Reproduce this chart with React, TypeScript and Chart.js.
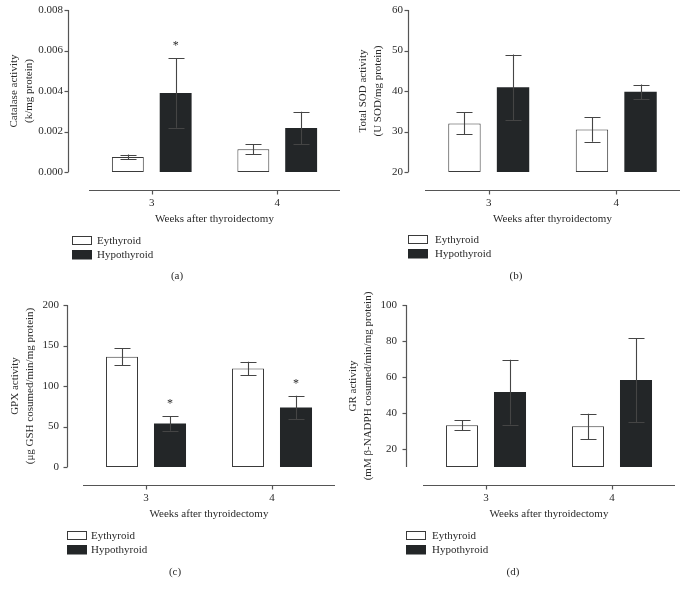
import React, { useEffect, useRef } from 'react';
import { Chart, registerables } from 'chart.js';

Chart.register(...registerables);

// ---------------- data ----------------
const weekLabels = ['3', '4'];
const seriesLabels = ['Eythyroid', 'Hypothyroid'];
const xAxisTitle = 'Weeks after thyroidectomy';

// (a) Catalase
const catalaseTitle = ['Catalase activity', '(k/mg protein)'];
const catalaseEu = [0.00074, 0.00112];
const catalaseEuErr = [0.00012, 0.00025];
const catalaseHypo = [0.0039, 0.00217];
const catalaseHypoErr = [0.00172, 0.0008];
const catalaseHypoStar = [true, false];
const catalaseTicks = [0, 0.002, 0.004, 0.006, 0.008];

// (b) Total SOD
const sodTitle = ['Total SOD activity', '(U SOD/mg protein)'];
const sodEu = [32.0, 30.5];
const sodEuErr = [2.7, 3.0];
const sodHypo = [40.9, 39.8];
const sodHypoErr = [8.1, 1.8];
const sodHypoStar = [false, false];
const sodTicks = [20, 30, 40, 50, 60];

// (c) GPX
const gpxTitle = ['GPX activity', '(\u03bcg GSH cosumed/min/mg protein)'];
const gpxEu = [136.1, 121.7];
const gpxEuErr = [10.3, 8.3];
const gpxHypo = [53.7, 73.5];
const gpxHypoErr = [9.0, 14.6];
const gpxHypoStar = [true, true];
const gpxTicks = [0, 50, 100, 150, 200];

// (d) GR
const grTitle = ['GR activity', '(mM \u03b2-NADPH cosumed/min/mg protein)'];
const grEu = [33.2, 32.6];
const grEuErr = [2.8, 7.0];
const grHypo = [51.6, 58.3];
const grHypoErr = [18.0, 23.3];
const grHypoStar = [false, false];
const grTicks = [20, 40, 60, 80, 100];
const grAxisMin = 10;

const panelLetters = ['(a)', '(b)', '(c)', '(d)'];

// ---------------- styles ----------------
const FONT = "'Liberation Serif', 'Times New Roman', serif";
const TEXT = '#2a2a2a';
const AXIS = '#555555';
const DARK = '#232628';
const BORDER = '#3a3a3a';
const ERR = '#454545';

type PanelDef = {
  title: string[];
  eu: number[];
  euErr: number[];
  hypo: number[];
  hypoErr: number[];
  hypoStar: boolean[];
  ticks: number[];
  min: number;
  max: number;
  decimals: number;
  letter: string;
  // layout
  left: number; top: number; w: number; h: number;
  padT: number; padR: number; padB: number; yWidth: number;
  yGap: number; yTickPad: number; yTitlePad: number;
  legX: number; legTextX: number; legY: number;
  labelX: number; labelY: number;
};

const XH = 54;

const panels: PanelDef[] = [
  {
    title: catalaseTitle, eu: catalaseEu, euErr: catalaseEuErr, hypo: catalaseHypo, hypoErr: catalaseHypoErr,
    hypoStar: catalaseHypoStar, ticks: catalaseTicks, min: catalaseTicks[0], max: catalaseTicks[catalaseTicks.length - 1],
    decimals: 3, letter: panelLetters[0],
    left: 0, top: 0, w: 340, h: 295, padT: 10, padR: 0, padB: 69, yWidth: 89,
    yGap: 21, yTickPad: 26, yTitlePad: 7,
    legX: 72, legTextX: 97, legY: 236, labelX: 177, labelY: 276,
  },
  {
    title: sodTitle, eu: sodEu, euErr: sodEuErr, hypo: sodHypo, hypoErr: sodHypoErr,
    hypoStar: sodHypoStar, ticks: sodTicks, min: sodTicks[0], max: sodTicks[sodTicks.length - 1],
    decimals: 0, letter: panelLetters[1],
    left: 340, top: 0, w: 345, h: 295, padT: 10, padR: 5, padB: 69, yWidth: 85,
    yGap: 17, yTickPad: 22, yTitlePad: 15.5,
    legX: 68, legTextX: 95, legY: 235, labelX: 176, labelY: 276,
  },
  {
    title: gpxTitle, eu: gpxEu, euErr: gpxEuErr, hypo: gpxHypo, hypoErr: gpxHypoErr,
    hypoStar: gpxHypoStar, ticks: gpxTicks, min: gpxTicks[0], max: gpxTicks[gpxTicks.length - 1],
    decimals: 0, letter: panelLetters[2],
    left: 0, top: 295, w: 340, h: 298, padT: 10, padR: 5, padB: 72, yWidth: 83,
    yGap: 16.5, yTickPad: 24, yTitlePad: 8,
    legX: 67, legTextX: 91, legY: 236, labelX: 175, labelY: 277,
  },
  {
    title: grTitle, eu: grEu, euErr: grEuErr, hypo: grHypo, hypoErr: grHypoErr,
    hypoStar: grHypoStar, ticks: grTicks, min: grAxisMin, max: grTicks[grTicks.length - 1],
    decimals: 0, letter: panelLetters[3],
    left: 340, top: 280, w: 345, h: 313, padT: 25, padR: 10, padB: 72, yWidth: 83,
    yGap: 17, yTickPad: 26, yTitlePad: 6,
    legX: 66, legTextX: 92, legY: 251, labelX: 173, labelY: 292,
  },
];

function Panel({ p }: { p: PanelDef }) {
  const ref = useRef<HTMLCanvasElement>(null);
  useEffect(() => {
    const canvas = ref.current;
    if (!canvas) return;
    const values = [p.eu, p.hypo];
    const errs = [p.euErr, p.hypoErr];
    const stars = [p.eu.map(() => false), p.hypoStar];

    const drawPlugin = {
      id: 'panelDecor',
      afterDatasetsDraw(chart: any) {
        const ctx = chart.ctx as CanvasRenderingContext2D;
        const ys = chart.scales.y;
        const xs = chart.scales.x;
        const { left, right, bottom } = chart.chartArea;
        ctx.save();
        // y axis line and ticks
        ctx.strokeStyle = AXIS;
        ctx.lineWidth = 1.2;
        const ax = Math.round(left - p.yGap) + 0.5;
        ctx.beginPath();
        ctx.moveTo(ax, ys.getPixelForValue(p.max));
        ctx.lineTo(ax, ys.getPixelForValue(p.min));
        ctx.stroke();
        p.ticks.forEach((v) => {
          const y = Math.round(ys.getPixelForValue(v)) + 0.5;
          ctx.beginPath();
          ctx.moveTo(ax - 4, y);
          ctx.lineTo(ax, y);
          ctx.stroke();
        });
        // x axis line and ticks
        const ay = Math.round(bottom + 18) + 0.5;
        ctx.beginPath();
        ctx.moveTo(left, ay);
        ctx.lineTo(right, ay);
        ctx.stroke();
        weekLabels.forEach((_, i) => {
          const x = Math.round(xs.getPixelForValue(i)) + 0.5;
          ctx.beginPath();
          ctx.moveTo(x, ay);
          ctx.lineTo(x, ay + 4);
          ctx.stroke();
        });
        // error bars and stars
        ctx.strokeStyle = ERR;
        ctx.lineWidth = 1.1;
        values.forEach((vals, di) => {
          const meta = chart.getDatasetMeta(di);
          meta.data.forEach((bar: any, j: number) => {
            const v = vals[j];
            const e = errs[di][j];
            const x = Math.round(bar.x) + 0.5;
            const yT = ys.getPixelForValue(v + e);
            const yB = ys.getPixelForValue(v - e);
            ctx.beginPath();
            ctx.moveTo(x, yT);
            ctx.lineTo(x, yB);
            ctx.moveTo(x - 8, Math.round(yT) + 0.5);
            ctx.lineTo(x + 8, Math.round(yT) + 0.5);
            ctx.moveTo(x - 8, Math.round(yB) + 0.5);
            ctx.lineTo(x + 8, Math.round(yB) + 0.5);
            ctx.stroke();
            if (stars[di][j]) {
              ctx.fillStyle = TEXT;
              ctx.font = `12px ${FONT}`;
              ctx.textAlign = 'center';
              ctx.textBaseline = 'alphabetic';
              ctx.fillText('*', bar.x, yT - 14.5 + 5.5);
            }
          });
        });
        // legend
        ctx.font = `11px ${FONT}`;
        ctx.textAlign = 'left';
        ctx.textBaseline = 'middle';
        seriesLabels.forEach((lab, i) => {
          const by = p.legY + i * 14;
          if (i === 0) {
            ctx.fillStyle = '#ffffff';
            ctx.fillRect(p.legX, by, 20, 9);
            ctx.strokeStyle = BORDER;
            ctx.lineWidth = 1;
            ctx.strokeRect(p.legX + 0.5, by + 0.5, 19, 8);
          } else {
            ctx.fillStyle = DARK;
            ctx.fillRect(p.legX, by, 20, 9.5);
          }
          ctx.fillStyle = TEXT;
          ctx.fillText(lab, p.legTextX, by + 5);
        });
        // panel letter
        ctx.textAlign = 'center';
        ctx.fillText(p.letter, p.labelX, p.labelY);
        ctx.restore();
      },
    };

    const chart = new Chart(canvas, {
      type: 'bar',
      data: {
        labels: weekLabels,
        datasets: [
          {
            label: seriesLabels[0],
            data: p.eu,
            backgroundColor: '#ffffff',
            borderColor: BORDER,
            borderWidth: 1,
            borderSkipped: false,
            base: p.min,
            categoryPercentage: 0.762,
            barPercentage: 0.667,
          },
          {
            label: seriesLabels[1],
            data: p.hypo,
            backgroundColor: DARK,
            borderColor: DARK,
            borderWidth: 0,
            borderSkipped: false,
            base: p.min,
            categoryPercentage: 0.762,
            barPercentage: 0.667,
          },
        ],
      },
      options: {
        animation: false,
        responsive: false,
        devicePixelRatio: 1,
        events: [],
        layout: { padding: { left: 0, right: p.padR, top: p.padT, bottom: p.padB } },
        plugins: {
          legend: { display: false },
          tooltip: { enabled: false },
          title: { display: false },
        },
        scales: {
          x: {
            type: 'category',
            offset: true,
            grid: { display: false, drawTicks: false },
            border: { display: false },
            ticks: { color: TEXT, font: { family: FONT, size: 11 }, padding: 25 },
            title: {
              display: true,
              text: xAxisTitle,
              color: TEXT,
              font: { family: FONT, size: 11 },
              padding: { top: 0, bottom: 0 },
            },
            afterFit: (s: any) => { s.height = XH; },
          },
          y: {
            type: 'linear',
            min: p.min,
            max: p.max,
            grid: { display: false, drawTicks: true, tickLength: p.yTickPad },
            border: { display: false },
            afterBuildTicks: (s: any) => { s.ticks = p.ticks.map((v) => ({ value: v })); },
            ticks: {
              color: TEXT,
              font: { family: FONT, size: 11 },
              padding: 0,
              callback: (v: any) => Number(v).toFixed(p.decimals),
            },
            title: {
              display: true,
              text: p.title,
              color: TEXT,
              font: { family: FONT, size: 11, lineHeight: '15px' },
              padding: { top: p.yTitlePad, bottom: 0 },
            },
            afterFit: (s: any) => { s.width = p.yWidth; },
          },
        },
      } as any,
      plugins: [drawPlugin],
    });
    return () => chart.destroy();
  }, [p]);
  return (
    <canvas
      ref={ref}
      width={p.w}
      height={p.h}
      style={{ position: 'absolute', left: p.left, top: p.top, width: p.w, height: p.h }}
    />
  );
}

export default function App() {
  return (
    <div style={{ position: 'fixed', left: 0, top: 0, width: 685, height: 593, background: '#ffffff' }}>
      {panels.map((p) => (
        <Panel key={p.letter} p={p} />
      ))}
    </div>
  );
}
